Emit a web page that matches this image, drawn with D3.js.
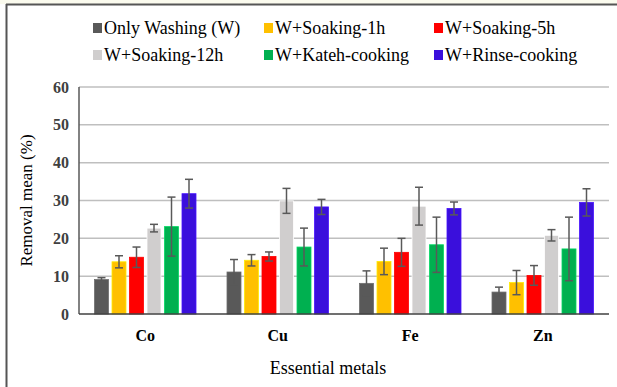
<!DOCTYPE html>
<html><head><meta charset="utf-8">
<script src="https://cdn.jsdelivr.net/npm/d3@7"></script>
<style>body{margin:0;background:#fff}svg{display:block}
svg text{font-family:"Liberation Serif","Times New Roman","DejaVu Serif",serif}</style>
</head><body>
<svg id="c" width="617" height="387"></svg>
<script>
const categories = ["Co","Cu","Fe","Zn"];
const seriesNames = ["Only Washing (W)","W+Soaking-1h","W+Soaking-5h","W+Soaking-12h","W+Kateh-cooking","W+Rinse-cooking"];
const colors = ["#595959","#FFC000","#FF0000","#D0CECE","#00B050","#3A0FDC"];
// values per series, in category order Co, Cu, Fe, Zn
const onlyWashing   = [9.1, 11.1, 8.1, 5.8];
const soaking1h     = [13.8, 14.2, 13.9, 8.3];
const soaking5h     = [15.0, 15.2, 16.3, 10.2];
const soaking12h    = [22.7, 29.9, 28.5, 20.8];
const katehCooking  = [23.1, 17.7, 18.3, 17.2];
const rinseCooking  = [31.8, 28.3, 27.9, 29.5];
// error (± sd)
const errWashing    = [0.5, 3.3, 3.3, 1.3];
const err1h         = [1.6, 1.5, 3.5, 3.2];
const err5h         = [2.7, 1.2, 3.7, 2.6];
const err12h        = [1.0, 3.3, 5.0, 1.5];
const errKateh      = [7.8, 5.0, 7.3, 8.4];
const errRinse      = [3.8, 2.0, 1.7, 3.6];
const yTicks = [0,10,20,30,40,50,60];

const values = [onlyWashing, soaking1h, soaking5h, soaking12h, katehCooking, rinseCooking];
const errors = [errWashing, err1h, err5h, err12h, errKateh, errRinse];

const svg = d3.select("#c");

// outer frame
svg.append("rect").attr("x",0).attr("y",0).attr("width",617).attr("height",4).attr("fill","#fbfbee");
svg.append("line").attr("x1",6).attr("x2",617).attr("y1",4.5).attr("y2",4.5).attr("stroke","#555").attr("stroke-width",2);
svg.append("line").attr("x1",6.5).attr("x2",6.5).attr("y1",4).attr("y2",387).attr("stroke","#555").attr("stroke-width",2);

const L = 79, R = 609, T = 87, B = 314;
const x0 = d3.scaleBand().domain(categories).range([L, R]).padding(0);
const step = 17.5;
const po = (x0.bandwidth()/step - 6 + 0.2)/2;
const x1 = d3.scaleBand().domain(d3.range(6)).range([0, x0.bandwidth()]).paddingInner(0.2).paddingOuter(po);
const y = d3.scaleLinear().domain([0,60]).range([B, T]);

// grid
svg.append("g").selectAll("line").data(yTicks.filter(t=>t>0)).join("line")
  .attr("x1",L).attr("x2",R).attr("y1",d=>y(d)).attr("y2",d=>y(d))
  .attr("stroke","#bfbfbf").attr("stroke-width",1.5);

// y axis tick labels
const yAxis = d3.axisLeft(y).tickValues(yTicks).tickSize(0).tickPadding(10);
const gy = svg.append("g").attr("transform",`translate(${L},0)`).call(yAxis);
gy.select(".domain").remove();
gy.selectAll("text").attr("font-family",null).attr("font-size",16).attr("font-weight","bold").attr("fill","#404040");
gy.attr("font-family",null);

// bars
const gBars = svg.append("g");
categories.forEach((c, ci) => {
  values.forEach((vals, si) => {
    const bx = x0(c) + x1(si);
    gBars.append("rect").attr("x",bx).attr("y",y(vals[ci])).attr("width",x1.bandwidth())
      .attr("height",y(0)-y(vals[ci])).attr("fill",colors[si])
      .attr("stroke", d3.color(colors[si]).brighter(0.6)).attr("stroke-width",0.8);
  });
});
// error bars
const gErr = svg.append("g").attr("stroke","#595959").attr("stroke-width",1.5);
categories.forEach((c, ci) => {
  values.forEach((vals, si) => {
    const cx = x0(c) + x1(si) + x1.bandwidth()/2;
    const v = vals[ci], e = errors[si][ci];
    gErr.append("line").attr("x1",cx).attr("x2",cx).attr("y1",y(v+e)).attr("y2",y(v-e));
    gErr.append("line").attr("x1",cx-4).attr("x2",cx+4).attr("y1",y(v+e)).attr("y2",y(v+e));
    gErr.append("line").attr("x1",cx-4).attr("x2",cx+4).attr("y1",y(v-e)).attr("y2",y(v-e));
  });
});

// axis lines
svg.append("line").attr("x1",L).attr("x2",L).attr("y1",T).attr("y2",B).attr("stroke","#595959").attr("stroke-width",1.5);
svg.append("line").attr("x1",L).attr("x2",R).attr("y1",B).attr("y2",B).attr("stroke","#404040").attr("stroke-width",1.5);

// x axis category labels
const xAxis = d3.axisBottom(x0).tickSize(0).tickPadding(16);
const gx = svg.append("g").attr("transform",`translate(0,${B})`).call(xAxis);
gx.select(".domain").remove();
gx.attr("font-family",null);
gx.selectAll("text").attr("font-size",16).attr("font-weight","bold").attr("fill","#000");

// axis titles
svg.append("text").attr("x",(L+R)/2 - 16).attr("y",374).attr("text-anchor","middle")
  .attr("font-size",18).attr("fill","#000").text("Essential metals");
svg.append("text").attr("transform",`translate(32,${(T+B)/2}) rotate(-90)`).attr("text-anchor","middle")
  .attr("font-size",17).attr("fill","#000").text("Removal mean (%)");

// legend
const legX = [93, 264, 434], legY = [28, 55];
seriesNames.forEach((n, i) => {
  const col = i % 3, row = Math.floor(i/3);
  const g = svg.append("g").attr("transform",`translate(${legX[col]},${legY[row]})`);
  g.append("rect").attr("x",0).attr("y",-5).attr("width",9).attr("height",10).attr("fill",colors[i]);
  g.append("text").attr("x",11).attr("y",5.5).attr("font-size",18).attr("fill","#000").text(n);
});
</script>
</body></html>
